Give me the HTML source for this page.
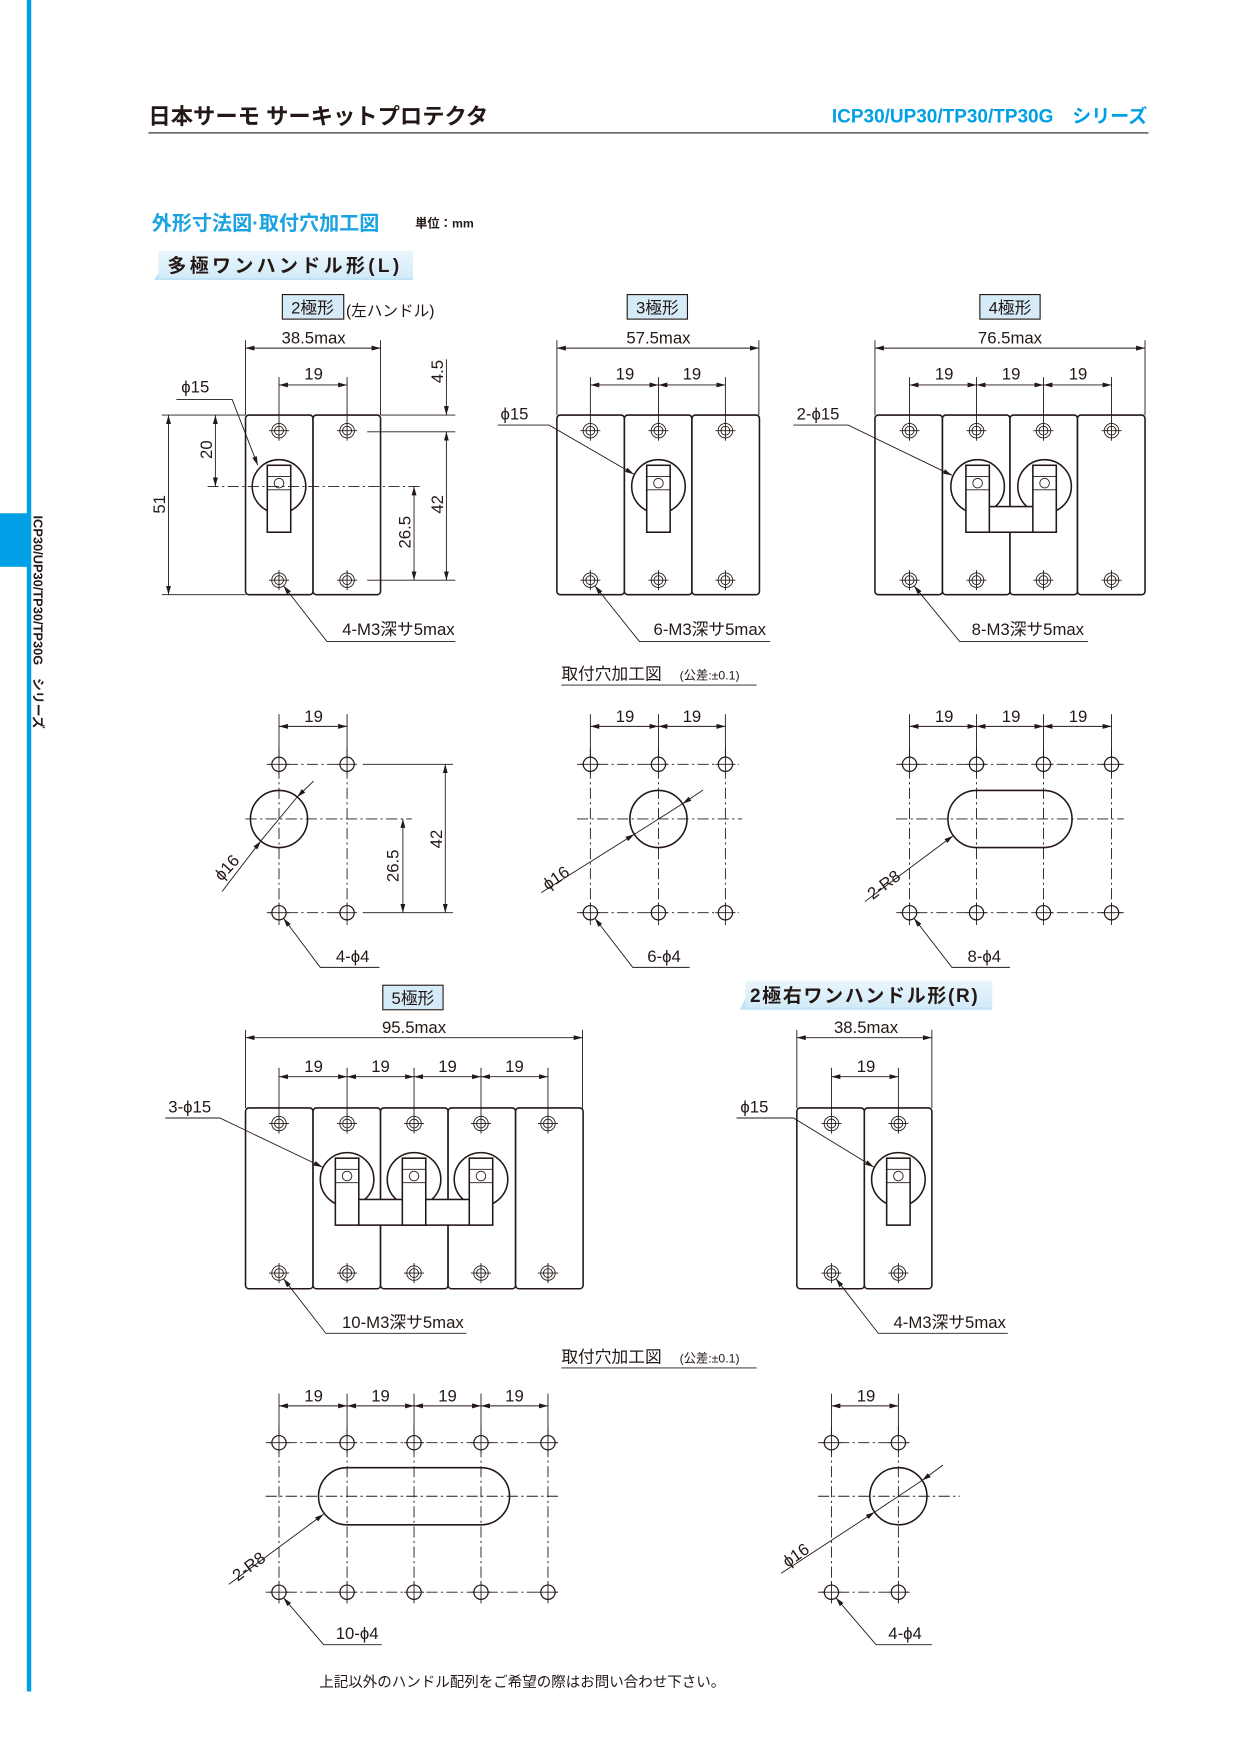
<!DOCTYPE html>
<html><head><meta charset="utf-8"><style>
html,body{margin:0;padding:0;background:#fff}
svg{display:block}
text{font-family:"Liberation Sans","Noto Sans CJK JP",sans-serif;fill:#231815}
.d{font-size:15px;text-anchor:middle}
.t{stroke:#231815;stroke-width:0.8;fill:none}
.b{stroke:#231815;stroke-width:1.4;fill:#fff}
.c{stroke:#231815;stroke-width:0.8;fill:none;stroke-dasharray:10 3 2 3}
.a{stroke:#231815;stroke-width:0.8;fill:none;marker-start:url(#ar);marker-end:url(#ar)}
.e{stroke:#231815;stroke-width:0.8;fill:none;marker-end:url(#ar)}
.lb{fill:#d5ecf8;stroke:#231815;stroke-width:1}
</style></head><body>
<svg width="1241" height="1754" viewBox="0 0 1112 1572" preserveAspectRatio="none" xmlns="http://www.w3.org/2000/svg">
<defs>
<marker id="ar" markerUnits="userSpaceOnUse" markerWidth="10" markerHeight="8" refX="8" refY="3" orient="auto-start-reverse" viewBox="0 0 10 6"><path d="M0,0.8 L8,3 L0,5.2 z" fill="#231815"/></marker>
<g id="m3"><circle r="6.5" class="t"/><circle r="4" class="t"/><path d="M-9,0H9M0,-9V9" class="t"/></g>
<g id="h4"><circle r="6.4" stroke="#231815" stroke-width="1.1" fill="#fff"/><path d="M-9,0H9M0,-9V9" class="t"/></g>
<g id="hc"><circle r="24" class="b" stroke-width="1.2"/></g>
<g id="hr"><rect x="-10.5" y="-19" width="21" height="60" class="b" stroke-width="1.2"/><path d="M-10.5,-9H10.5M-10.5,3H10.5" class="t" stroke-width="1.1"/><circle cy="-3" r="4.3" class="t" stroke-width="1.1"/></g>
<linearGradient id="lg" x1="0" y1="0" x2="0" y2="1"><stop offset="0" stop-color="#eaf6fd"/><stop offset="1" stop-color="#d2ebf8"/></linearGradient>
</defs>

<!-- sidebar -->
<rect x="24" y="0" width="4" height="1516" fill="#00a0e6"/>
<rect x="0" y="460" width="26" height="48" fill="#00a0e6"/>
<text transform="translate(30,462) rotate(90)" style="font-size:11.5px;font-weight:bold">ICP30/UP30/TP30/TP30G　シリーズ</text>

<!-- header -->
<text x="133" y="111" style="font-size:20px;font-weight:bold">日本サーモ サーキットプロテクタ</text>
<rect x="133" y="118.5" width="896" height="1.2" fill="#444"/>
<text x="1028" y="110" style="font-size:17px;font-weight:bold;fill:#00a0e6;text-anchor:end">ICP30/UP30/TP30/TP30G　シリーズ</text>
<text x="136" y="206" style="font-size:18px;font-weight:bold;fill:#1aa3e0">外形寸法図·取付穴加工図</text>
<text x="372" y="204" style="font-size:11px;font-weight:bold">単位：mm</text>
<polygon points="138,251 155,225 370,225 370,251" fill="#bfe2f5"/>
<rect x="142" y="225" width="228" height="24" fill="url(#lg)"/>
<text x="150" y="244" style="font-size:17px;font-weight:bold;letter-spacing:3px">多極ワンハンドル形(L)</text>

<!-- labels -->
<rect x="253" y="264" width="55" height="22" class="lb"/><text x="280" y="281" class="d">2極形</text>
<text x="310" y="283" style="font-size:14px">(左ハンドル)</text>
<rect x="562" y="264" width="54" height="22" class="lb"/><text x="589" y="281" class="d">3極形</text>
<rect x="878" y="264" width="54" height="22" class="lb"/><text x="905" y="281" class="d">4極形</text>

<!-- ===== 2-pole L ===== -->
<rect x="220" y="372" width="60.5" height="161" rx="3" class="b"/>
<rect x="280.5" y="372" width="60.5" height="161" rx="3" class="b"/>
<use href="#m3" x="250" y="386"/><use href="#m3" x="311" y="386"/>
<use href="#m3" x="250" y="520"/><use href="#m3" x="311" y="520"/>
<use href="#hc" x="250" y="436"/><use href="#hr" x="250" y="436"/>
<path d="M220,305V372M341,305V372M250,338V378M311,338V378" class="t"/>
<path d="M220,312H341" class="a"/><text x="281" y="308" class="d">38.5max</text>
<path d="M250,345H311" class="a"/><text x="281" y="340" class="d">19</text>
<path d="M341,372H408M329,387H408M329,520H408M145,372H220M145,533H220" class="t"/>
<path d="M400,322V372" class="e"/>
<path d="M400,387V520" class="a"/>
<path d="M371,436V520" class="a"/>
<path d="M193,372V436" class="a"/>
<path d="M151,372V533" class="a"/>
<path d="M186,436H376" class="c"/>
<text transform="translate(397,333) rotate(-90)" class="d">4.5</text>
<text transform="translate(397,452) rotate(-90)" class="d">42</text>
<text transform="translate(368,477) rotate(-90)" class="d">26.5</text>
<text transform="translate(190,403) rotate(-90)" class="d">20</text>
<text transform="translate(148,452) rotate(-90)" class="d">51</text>
<text x="175" y="352" class="d">ϕ15</text>
<path d="M158,358H208L231,417" class="e"/>
<text x="357" y="569" class="d">4-M3深サ5max</text>
<path d="M408,575H293L254,525" class="e"/>

<!-- ===== 3-pole ===== -->
<rect x="499" y="372" width="60.5" height="161" rx="3" class="b"/>
<rect x="559.5" y="372" width="60.5" height="161" rx="3" class="b"/>
<rect x="620" y="372" width="60.5" height="161" rx="3" class="b"/>
<use href="#m3" x="529" y="386"/><use href="#m3" x="590" y="386"/><use href="#m3" x="650" y="386"/>
<use href="#m3" x="529" y="520"/><use href="#m3" x="590" y="520"/><use href="#m3" x="650" y="520"/>
<use href="#hc" x="590" y="436"/><use href="#hr" x="590" y="436"/>
<path d="M499,305V372M680,305V372M529,338V378M590,338V378M650,338V378" class="t"/>
<path d="M499,312H680" class="a"/><text x="590" y="308" class="d">57.5max</text>
<path d="M529,345H590" class="a"/><path d="M590,345H650" class="a"/>
<text x="560" y="340" class="d">19</text><text x="620" y="340" class="d">19</text>
<text x="461" y="376" class="d">ϕ15</text>
<path d="M446,381H492L568,425" class="e"/>
<text x="636" y="569" class="d">6-M3深サ5max</text>
<path d="M690,575H573L533,525" class="e"/>

<!-- ===== 4-pole ===== -->
<rect x="784" y="372" width="60.5" height="161" rx="3" class="b"/>
<rect x="844.5" y="372" width="60.5" height="161" rx="3" class="b"/>
<rect x="905" y="372" width="60.5" height="161" rx="3" class="b"/>
<rect x="965.5" y="372" width="60.5" height="161" rx="3" class="b"/>
<use href="#m3" x="815" y="386"/><use href="#m3" x="875" y="386"/><use href="#m3" x="935" y="386"/><use href="#m3" x="996" y="386"/>
<use href="#m3" x="815" y="520"/><use href="#m3" x="875" y="520"/><use href="#m3" x="935" y="520"/><use href="#m3" x="996" y="520"/>
<use href="#hc" x="876" y="436"/><use href="#hc" x="936" y="436"/>
<rect x="886" y="454" width="40" height="23" class="b" stroke-width="1.2"/>
<use href="#hr" x="876" y="436"/><use href="#hr" x="936" y="436"/>
<path d="M784,305V372M1026,305V372M815,338V378M875,338V378M935,338V378M996,338V378" class="t"/>
<path d="M784,312H1026" class="a"/><text x="905" y="308" class="d">76.5max</text>
<path d="M815,345H875" class="a"/><path d="M875,345H935" class="a"/><path d="M935,345H996" class="a"/>
<text x="846" y="340" class="d">19</text><text x="906" y="340" class="d">19</text><text x="966" y="340" class="d">19</text>
<text x="733" y="376" class="d">2-ϕ15</text>
<path d="M711,381H760L853,426" class="e"/>
<text x="921" y="569" class="d">8-M3深サ5max</text>
<path d="M975,575H860L819,525" class="e"/>

<!-- mount title 1 -->
<text x="503" y="609" style="font-size:15px">取付穴加工図</text>
<text x="609" y="609" style="font-size:11px">(公差:±0.1)</text>
<path d="M503,614H678" class="t"/>

<!-- mount 2-pole -->
<path d="M239,685H318M239,818H318M220,734H369M250,670V830M311,670V830" class="c"/>
<path d="M325,685H406M325,818H406" class="t"/>
<circle cx="250" cy="734" r="25.6" stroke="#231815" stroke-width="1.4" fill="none"/>
<use href="#h4" x="250" y="685"/><use href="#h4" x="311" y="685"/><use href="#h4" x="250" y="818"/><use href="#h4" x="311" y="818"/>
<path d="M250,640V678M311,640V678" class="t"/>
<path d="M250,651H311" class="a"/><text x="281" y="647" class="d">19</text>
<path d="M399,685V818" class="a"/><path d="M361,734V818" class="a"/>
<text transform="translate(396,752) rotate(-90)" class="d">42</text>
<text transform="translate(357,776) rotate(-90)" class="d">26.5</text>
<path d="M233.7,753.7L266.3,714.3" class="t"/>
<path d="M199,799L233.7,753.7" class="e"/><path d="M281,700L266.3,714.3" class="e"/>
<text transform="translate(207,781) rotate(-48)" class="d">ϕ16</text>
<text x="316" y="862" class="d">4-ϕ4</text>
<path d="M340,867H287L254,823" class="e"/>

<!-- mount 3-pole -->
<path d="M517,685H662M517,818H662M517,734H665M529,670V830M590,670V830M650,670V830" class="c"/>
<circle cx="590" cy="734" r="25.6" stroke="#231815" stroke-width="1.4" fill="none"/>
<use href="#h4" x="529" y="685"/><use href="#h4" x="590" y="685"/><use href="#h4" x="650" y="685"/>
<use href="#h4" x="529" y="818"/><use href="#h4" x="590" y="818"/><use href="#h4" x="650" y="818"/>
<path d="M529,640V678M590,640V678M650,640V678" class="t"/>
<path d="M529,651H590" class="a"/><path d="M590,651H650" class="a"/>
<text x="560" y="647" class="d">19</text><text x="620" y="647" class="d">19</text>
<path d="M568.4,747.7L611.6,720.3" class="t"/>
<path d="M485,800L568.4,747.7" class="e"/><path d="M630,708L611.6,720.3" class="e"/>
<text transform="translate(501,791) rotate(-35)" class="d">ϕ16</text>
<text x="595" y="862" class="d">6-ϕ4</text>
<path d="M618,867H567L533,823" class="e"/>

<!-- mount 4-pole -->
<path d="M803,685H1007M803,818H1007M803,734H1007M815,670V830M875,670V830M935,670V830M996,670V830" class="c"/>
<path d="M875,708.4H935A25.6,25.6 0 0 1 935,759.6H875A25.6,25.6 0 0 1 875,708.4Z" stroke="#231815" stroke-width="1.4" fill="none"/>
<use href="#h4" x="815" y="685"/><use href="#h4" x="875" y="685"/><use href="#h4" x="935" y="685"/><use href="#h4" x="996" y="685"/>
<use href="#h4" x="815" y="818"/><use href="#h4" x="875" y="818"/><use href="#h4" x="935" y="818"/><use href="#h4" x="996" y="818"/>
<path d="M815,640V678M875,640V678M935,640V678M996,640V678" class="t"/>
<path d="M815,651H875" class="a"/><path d="M875,651H935" class="a"/><path d="M935,651H996" class="a"/>
<text x="846" y="647" class="d">19</text><text x="906" y="647" class="d">19</text><text x="966" y="647" class="d">19</text>
<path d="M775,808L854,749" class="e"/>
<text transform="translate(795,797) rotate(-37)" class="d">2-R8</text>
<text x="882" y="862" class="d">8-ϕ4</text>
<path d="M905,867H853L819,823" class="e"/>

<!-- 5-pole label -->
<rect x="343" y="883" width="54" height="22" class="lb"/><text x="370" y="900" class="d">5極形</text>
<polygon points="663,905 675,880 889,880 889,905" fill="#bfe2f5"/>
<rect x="668" y="879" width="221" height="24" fill="url(#lg)"/>
<text x="672" y="898" style="font-size:17px;font-weight:bold;letter-spacing:1.5px">2極右ワンハンドル形(R)</text>

<!-- ===== 5-pole ===== -->
<rect x="220" y="993" width="60.5" height="162" rx="3" class="b"/>
<rect x="280.5" y="993" width="60.5" height="162" rx="3" class="b"/>
<rect x="341" y="993" width="60.5" height="162" rx="3" class="b"/>
<rect x="401.5" y="993" width="60.5" height="162" rx="3" class="b"/>
<rect x="462" y="993" width="60.5" height="162" rx="3" class="b"/>
<use href="#m3" x="250" y="1007"/><use href="#m3" x="311" y="1007"/><use href="#m3" x="371" y="1007"/><use href="#m3" x="431" y="1007"/><use href="#m3" x="491" y="1007"/>
<use href="#m3" x="250" y="1141"/><use href="#m3" x="311" y="1141"/><use href="#m3" x="371" y="1141"/><use href="#m3" x="431" y="1141"/><use href="#m3" x="491" y="1141"/>
<use href="#hc" x="311" y="1057"/><use href="#hc" x="371" y="1057"/><use href="#hc" x="431" y="1057"/>
<rect x="321" y="1075" width="100" height="23" class="b" stroke-width="1.2"/>
<use href="#hr" x="311" y="1057"/><use href="#hr" x="371" y="1057"/><use href="#hr" x="431" y="1057"/>
<path d="M220,923V993M522,923V993M250,957V999M311,957V999M371,957V999M431,957V999M491,957V999" class="t"/>
<path d="M220,930H522" class="a"/><text x="371" y="926" class="d">95.5max</text>
<path d="M250,965H311" class="a"/><path d="M311,965H371" class="a"/><path d="M371,965H431" class="a"/><path d="M431,965H491" class="a"/>
<text x="281" y="961" class="d">19</text><text x="341" y="961" class="d">19</text><text x="401" y="961" class="d">19</text><text x="461" y="961" class="d">19</text>
<text x="170" y="997" class="d">3-ϕ15</text>
<path d="M148,1002H197L289,1046" class="e"/>
<text x="361" y="1190" class="d">10-M3深サ5max</text>
<path d="M418,1195H292L254,1146" class="e"/>

<!-- ===== 2-pole R ===== -->
<rect x="714" y="993" width="60.5" height="162" rx="3" class="b"/>
<rect x="774.5" y="993" width="60.5" height="162" rx="3" class="b"/>
<use href="#m3" x="745" y="1007"/><use href="#m3" x="805" y="1007"/>
<use href="#m3" x="745" y="1141"/><use href="#m3" x="805" y="1141"/>
<use href="#hc" x="805" y="1057"/><use href="#hr" x="805" y="1057"/>
<path d="M714,923V993M835,923V993M745,957V999M805,957V999" class="t"/>
<path d="M714,930H835" class="a"/><text x="776" y="926" class="d">38.5max</text>
<path d="M745,965H805" class="a"/><text x="776" y="961" class="d">19</text>
<text x="676" y="997" class="d">ϕ15</text>
<path d="M660,1002H711L783,1046" class="e"/>
<text x="851" y="1190" class="d">4-M3深サ5max</text>
<path d="M903,1195H787L749,1146" class="e"/>

<!-- mount title 2 -->
<text x="503" y="1221" style="font-size:15px">取付穴加工図</text>
<text x="609" y="1221" style="font-size:11px">(公差:±0.1)</text>
<path d="M503,1226H678" class="t"/>

<!-- mount 5-pole -->
<path d="M238,1293H503M238,1427H503M238,1341H503M250,1278V1440M311,1278V1440M371,1278V1440M431,1278V1440M491,1278V1440" class="c"/>
<path d="M311,1315.4H431A25.6,25.6 0 0 1 431,1366.6H311A25.6,25.6 0 0 1 311,1315.4Z" stroke="#231815" stroke-width="1.4" fill="none"/>
<use href="#h4" x="250" y="1293"/><use href="#h4" x="311" y="1293"/><use href="#h4" x="371" y="1293"/><use href="#h4" x="431" y="1293"/><use href="#h4" x="491" y="1293"/>
<use href="#h4" x="250" y="1427"/><use href="#h4" x="311" y="1427"/><use href="#h4" x="371" y="1427"/><use href="#h4" x="431" y="1427"/><use href="#h4" x="491" y="1427"/>
<path d="M250,1249V1286M311,1249V1286M371,1249V1286M431,1249V1286M491,1249V1286" class="t"/>
<path d="M250,1260H311" class="a"/><path d="M311,1260H371" class="a"/><path d="M371,1260H431" class="a"/><path d="M431,1260H491" class="a"/>
<text x="281" y="1256" class="d">19</text><text x="341" y="1256" class="d">19</text><text x="401" y="1256" class="d">19</text><text x="461" y="1256" class="d">19</text>
<path d="M205,1420L290,1357" class="e"/>
<text transform="translate(226,1408) rotate(-37)" class="d">2-R8</text>
<text x="320" y="1469" class="d">10-ϕ4</text>
<path d="M342,1474H290L254,1432" class="e"/>

<!-- mount 2-pole R -->
<path d="M733,1293H817M733,1427H817M733,1341H860M745,1278V1440M805,1278V1440" class="c"/>
<circle cx="805" cy="1341" r="25.6" stroke="#231815" stroke-width="1.4" fill="none"/>
<use href="#h4" x="745" y="1293"/><use href="#h4" x="805" y="1293"/><use href="#h4" x="745" y="1427"/><use href="#h4" x="805" y="1427"/>
<path d="M745,1249V1286M805,1249V1286" class="t"/>
<path d="M745,1260H805" class="a"/><text x="776" y="1256" class="d">19</text>
<path d="M783.7,1355.2L826.3,1326.8" class="t"/>
<path d="M700,1410L783.7,1355.2" class="e"/><path d="M845,1313L826.3,1326.8" class="e"/>
<text transform="translate(716,1398) rotate(-35)" class="d">ϕ16</text>
<text x="811" y="1469" class="d">4-ϕ4</text>
<path d="M835,1474H785L749,1432" class="e"/>

<!-- footer -->
<text x="468" y="1512" style="font-size:13px;text-anchor:middle">上記以外のハンドル配列をご希望の際はお問い合わせ下さい。</text>
</svg>
</body></html>
